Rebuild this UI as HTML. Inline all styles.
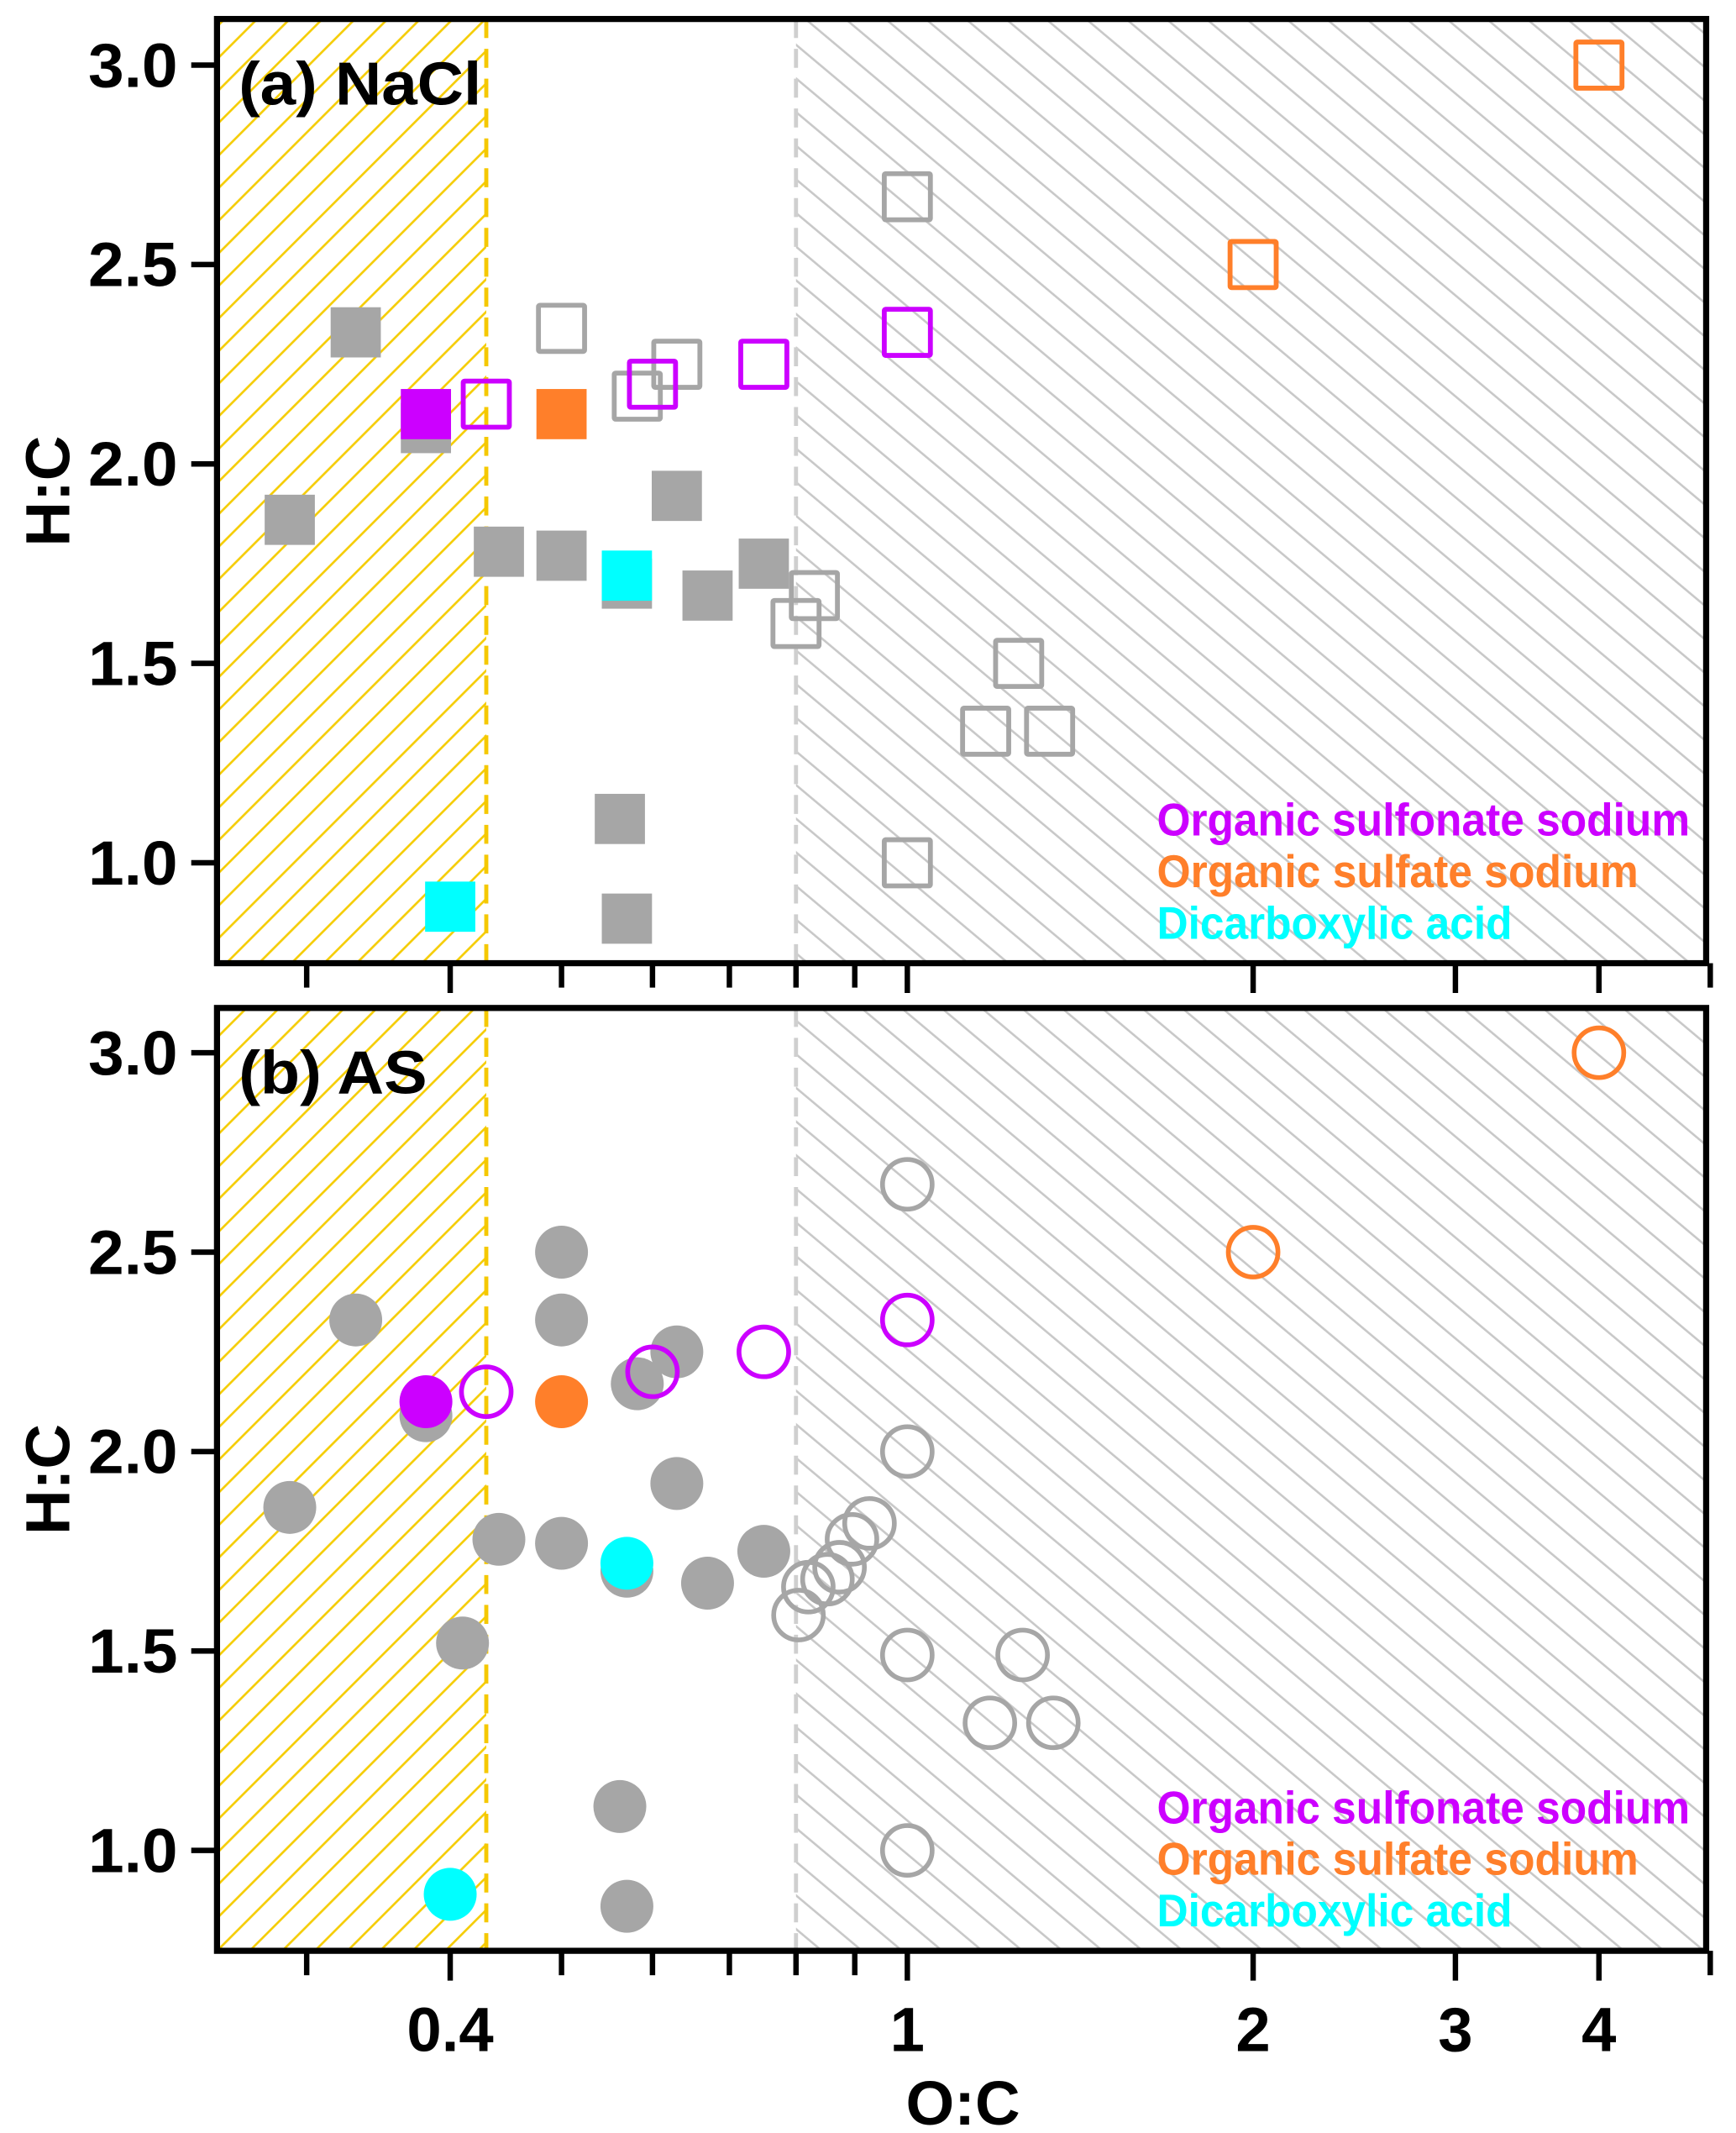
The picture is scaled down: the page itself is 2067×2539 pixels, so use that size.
<!DOCTYPE html>
<html><head><meta charset="utf-8"><style>
html,body{margin:0;padding:0;background:#fff}
svg{display:block}
text{font-family:"Liberation Sans",Arial,sans-serif;font-weight:bold}
</style></head><body>
<svg id="chart" xmlns="http://www.w3.org/2000/svg" width="2067" height="2539" viewBox="0 0 1280 1572.3">
<defs>
<pattern id="hatchY" patternUnits="userSpaceOnUse" width="17" height="17" patternTransform="rotate(-45)">
<line x1="0" y1="8" x2="17" y2="8" stroke="#f5cc00" stroke-width="1.6"/></pattern>
<pattern id="hatchG" patternUnits="userSpaceOnUse" width="19" height="19" patternTransform="rotate(40)">
<line x1="0" y1="9" x2="19" y2="9" stroke="#c8c8c8" stroke-width="1.6"/></pattern>
</defs>
<g id="panels"></g>
</svg>
<script>
// Panel (a) NaCl data
const aGreyFilledX=[0.331,0.290,0.381,0.441,0.5,0.63,0.67,0.75,0.562,0.57,0.57];
const aGreyFilledY=[2.33,1.86,2.09,1.78,1.77,1.92,1.67,1.75,1.11,0.86,1.70];
const aGreyOpenX=[0.5,0.582,0.63,0.83,0.80,1.0,1.25,1.17,1.33,1.0];
const aGreyOpenY=[2.34,2.17,2.25,1.67,1.60,2.67,1.50,1.33,1.33,1.0];
const aPurpleFilledX=[0.381];const aPurpleFilledY=[2.125];
const aOrangeFilledX=[0.5];const aOrangeFilledY=[2.125];
const aCyanFilledX=[0.57,0.40];const aCyanFilledY=[1.72,0.89];
const aPurpleOpenX=[0.43,0.60,0.75,1.0];const aPurpleOpenY=[2.15,2.20,2.25,2.33];
const aOrangeOpenX=[2,4];const aOrangeOpenY=[2.5,3.0];
// Panel (b) AS data
const bGreyFilledX=[0.331,0.290,0.381,0.441,0.5,0.5,0.5,0.41,0.63,0.67,0.75,0.582,0.63,0.562,0.57,0.57];
const bGreyFilledY=[2.33,1.86,2.09,1.78,1.77,2.50,2.33,1.52,1.92,1.67,1.75,2.17,2.25,1.11,0.86,1.70];
const bGreyOpenX=[1.0,1.0,0.804,0.82,0.852,0.873,0.895,0.927,1.0,1.26,1.18,1.34,1.0];
const bGreyOpenY=[2.67,2.0,1.59,1.66,1.68,1.71,1.78,1.82,1.49,1.49,1.32,1.32,1.0];
const bPurpleFilledX=[0.381];const bPurpleFilledY=[2.125];
const bOrangeFilledX=[0.5];const bOrangeFilledY=[2.125];
const bCyanFilledX=[0.57,0.40];const bCyanFilledY=[1.72,0.89];
const bPurpleOpenX=[0.43,0.60,0.75,1.0];const bPurpleOpenY=[2.15,2.20,2.25,2.33];
const bOrangeOpenX=[2,4];const bOrangeOpenY=[2.5,3.0];
// ticks
const yTicks=[3.0,2.5,2.0,1.5,1.0];
const yTickLabels=["3.0","2.5","2.0","1.5","1.0"];
const xMajor=[0.4,1,2,3,4];
const xMajorLabels=["0.4","1","2","3","4"];
const xMinor=[0.3,0.5,0.6,0.7,0.8,0.9,5];
const boundaryLow=0.43, boundaryHigh=0.8;

const NS="http://www.w3.org/2000/svg";
const root=document.getElementById('panels');
const L=160,R=1258;
function xs(v){return 669+847*Math.log10(v);}
function mk(tag,attrs,parent){const e=document.createElementNS(NS,tag);for(const k in attrs)e.setAttribute(k,attrs[k]);(parent||root).appendChild(e);return e;}
const GREY='#a6a6a6',PUR='#cc00ff',ORA='#ff7f2a',CYA='#00ffff';

function panel(id,top,bottom,y3,label,labelLen,shape,d){
  const ys=v=>y3+(3-v)*294;
  const g=mk('g',{});
  
  
  const xl=xs(boundaryLow),xh=xs(boundaryHigh);
  const hy=mk('rect',{x:L,y:top,width:xl-L,height:bottom-top,fill:'url(#hatchY)'},g);
  
  
  const hg=mk('rect',{x:xh,y:top,width:R-xh,height:bottom-top,fill:'url(#hatchG)'},g);
  
  
  const dy=mk('line',{x1:xl,y1:top,x2:xl,y2:bottom,stroke:'#f5c800','stroke-width':3,'stroke-dasharray':'14 8'},g);
  
  
  const dg=mk('line',{x1:xh,y1:top,x2:xh,y2:bottom,stroke:'#cfcfcf','stroke-width':3,'stroke-dasharray':'14 8'},g);
  
  
  function pts(X,Y,color,filled,name){
    for(let i=0;i<X.length;i++){
      const cx=xs(X[i]),cy=ys(Y[i]);let e;
      if(shape==='sq'){
        if(filled) e=mk('rect',{x:cx-18.5,y:cy-18.5,width:37,height:37,fill:color},g);
        else e=mk('rect',{x:cx-17,y:cy-17,width:34,height:34,fill:'none',stroke:color,'stroke-width':3.6,rx:1},g);
      } else {
        if(filled) e=mk('circle',{cx:cx,cy:cy,r:19.5,fill:color},g);
        else e=mk('circle',{cx:cx,cy:cy,r:18.3,fill:'none',stroke:color,'stroke-width':3.5},g);
      }
      
      
    }
  }
  pts(d.gfx,d.gfy,GREY,true,'grey-filled-point');
  pts(d.gox,d.goy,GREY,false,'grey-open-point');
  pts(d.pfx,d.pfy,PUR,true,'sulfonate-filled-point');
  pts(d.ofx,d.ofy,ORA,true,'sulfate-filled-point');
  pts(d.cfx,d.cfy,CYA,true,'dicarboxylic-point');
  pts(d.pox,d.poy,PUR,false,'sulfonate-open-point');
  pts(d.oox,d.ooy,ORA,false,'sulfate-open-point');
  const fr=mk('rect',{x:L,y:top,width:R-L,height:bottom-top,fill:'none',stroke:'#000','stroke-width':4.5},g);
  
  
  yTicks.forEach((v,i)=>{
    const t=mk('line',{x1:L-19,y1:ys(v),x2:L,y2:ys(v),stroke:'#000','stroke-width':4},g);
    
    
    const tx=mk('text',{x:131,y:ys(v)+16,'text-anchor':'end','font-size':46,textLength:66,lengthAdjust:'spacingAndGlyphs'},g);
    tx.textContent=yTickLabels[i];
    
    
  });
  xMajor.forEach(v=>{const t=mk('line',{x1:xs(v),y1:bottom,x2:xs(v),y2:bottom+22,stroke:'#000','stroke-width':4},g);
    
    });
  xMinor.forEach(v=>{const t=mk('line',{x1:xs(v),y1:bottom,x2:xs(v),y2:bottom+18,stroke:'#000','stroke-width':4},g);
    
    });
  const pl=mk('text',{x:176,y:top+63,'font-size':45,textLength:labelLen,lengthAdjust:'spacingAndGlyphs'},g);
  pl.textContent=label;
  
  
  const yl=mk('text',{x:0,y:0,'font-size':46,'text-anchor':'middle',transform:`translate(51,${(top+bottom)/2}) rotate(-90)`},g);
  yl.textContent='H:C';
  
  
  const leg=[['Organic sulfonate sodium',PUR,393],['Organic sulfate sodium',ORA,355],['Dicarboxylic acid',CYA,262]];
  leg.forEach((l,i)=>{
    const t=mk('text',{x:853,y:bottom-94+i*38,'font-size':34,fill:l[1],textLength:l[2],lengthAdjust:'spacingAndGlyphs'},g);
    t.textContent=l[0];
    
    
  });
  return ys;
}
panel('nacl',14,710,48,'(a) NaCl',179,'sq',{gfx:aGreyFilledX,gfy:aGreyFilledY,gox:aGreyOpenX,goy:aGreyOpenY,pfx:aPurpleFilledX,pfy:aPurpleFilledY,ofx:aOrangeFilledX,ofy:aOrangeFilledY,cfx:aCyanFilledX,cfy:aCyanFilledY,pox:aPurpleOpenX,poy:aPurpleOpenY,oox:aOrangeOpenX,ooy:aOrangeOpenY});
panel('as',743,1438,776,'(b) AS',139,'ci',{gfx:bGreyFilledX,gfy:bGreyFilledY,gox:bGreyOpenX,goy:bGreyOpenY,pfx:bPurpleFilledX,pfy:bPurpleFilledY,ofx:bOrangeFilledX,ofy:bOrangeFilledY,cfx:bCyanFilledX,cfy:bCyanFilledY,pox:bPurpleOpenX,poy:bPurpleOpenY,oox:bOrangeOpenX,ooy:bOrangeOpenY});
xMajor.forEach((v,i)=>{
  const t=mk('text',{x:xs(v),y:1512,'text-anchor':'middle','font-size':46});
  t.textContent=xMajorLabels[i];
  
  
});
const xt=mk('text',{x:710,y:1566,'text-anchor':'middle','font-size':46});
xt.textContent='O:C';


</script>
</body></html>
